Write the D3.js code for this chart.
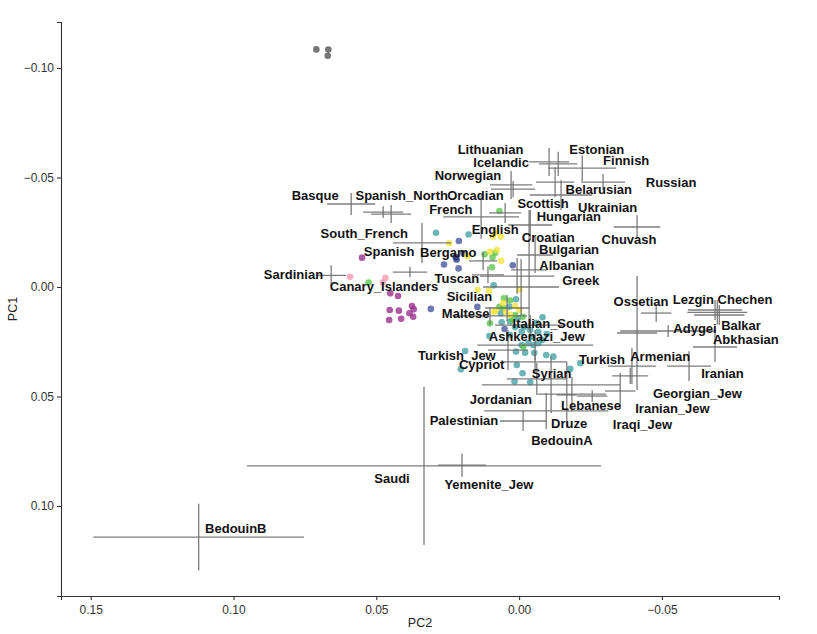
<!DOCTYPE html>
<html>
<head>
<meta charset="utf-8">
<script src="https://cdn.jsdelivr.net/npm/d3@7"></script>
<style>
  body { margin: 0; background: #fff; }
  svg text { font-family: "Liberation Sans", Arial, Helvetica, sans-serif; }
</style>
</head>
<body>
<div id="chart"></div>
<script>
// PCA plot: PC2 (reversed) vs PC1 (reversed)

// Population means with spread: [name, PC2, PC1, sdPC2, sdPC1]
const crosses = [
  ["Lithuanian", -0.0105, -0.0571, 0.0070, 0.0064],
  ["Icelandic", -0.0137, -0.0562, 0.0067, 0.0055],
  ["Estonian", -0.0221, -0.0543, 0.0119, 0.0059],
  ["Finnish", -0.0294, -0.0479, 0.0077, 0.0037],
  ["Belarusian", -0.0126, -0.0479, 0.0067, 0.0068],
  ["Ukrainian", -0.0147, -0.0420, 0.0109, 0.0068],
  ["Norwegian", 0.0028, -0.0466, 0.0074, 0.0064],
  ["Orcadian", 0.0021, -0.0447, 0.0077, 0.0037],
  ["Scottish", 0.0049, -0.0338, 0.0056, 0.0046],
  ["English", 0.0133, -0.0320, 0.0133, 0.0100],
  ["Hungarian", -0.0039, -0.0283, 0.0077, 0.0068],
  ["Chuvash", -0.0413, -0.0274, 0.0081, 0.0055],
  ["French", 0.0340, -0.0201, 0.0102, 0.0091],
  ["Basque", 0.0588, -0.0379, 0.0084, 0.0050],
  ["Spanish_North", 0.0476, -0.0342, 0.0070, 0.0027],
  ["South_French", 0.0448, -0.0333, 0.0070, 0.0041],
  ["Sardinian", 0.0658, -0.0053, 0.0053, 0.0046],
  ["Spanish", 0.0382, -0.0068, 0.0060, 0.0023],
  ["Croatian", -0.0035, -0.0078, 0.0063, 0.0274],
  ["Bulgarian", -0.0056, -0.0146, 0.0063, 0.0082],
  ["Bergamo", 0.0126, -0.0119, 0.0049, 0.0041],
  ["Tuscan", 0.0109, -0.0055, 0.0056, 0.0037],
  ["Albanian", 0.0007, -0.0050, 0.0130, 0.0082],
  ["Greek", -0.0007, 0.0000, 0.0133, 0.0128],
  ["Sicilian", 0.0042, 0.0096, 0.0077, 0.0059],
  ["Maltese", 0.0102, 0.0132, 0.0130, 0.0041],
  ["Italian_South", -0.0039, 0.0174, 0.0123, 0.0046],
  ["Ashkenazi_Jew", -0.0056, 0.0265, 0.0203, 0.0068],
  ["Turkish_Jew", 0.0039, 0.0288, 0.0070, 0.0091],
  ["Cypriot", -0.0056, 0.0342, 0.0112, 0.0046],
  ["Syrian", -0.0112, 0.0447, 0.0242, 0.0128],
  ["Turkish", -0.0395, 0.0361, 0.0084, 0.0082],
  ["Iraqi_Jew", -0.0354, 0.0475, 0.0053, 0.0082],
  ["Armenian", -0.0389, 0.0406, 0.0063, 0.0037],
  ["Iranian", -0.0595, 0.0361, 0.0077, 0.0068],
  ["Georgian_Jew", -0.0413, 0.0210, 0.0070, 0.0260],
  ["Iranian_Jew", -0.0185, 0.0489, 0.0119, 0.0078],
  ["Lebanese", -0.0256, 0.0498, 0.0053, 0.0027],
  ["Jordanian", -0.0095, 0.0566, 0.0217, 0.0082],
  ["Palestinian", -0.0014, 0.0612, 0.0081, 0.0046],
  ["Druze", -0.0167, 0.0493, 0.0035, 0.0151],
  ["BedouinA", -0.0062, 0.0420, 0.0105, 0.0073],
  ["Saudi", 0.0333, 0.0817, 0.0620, 0.0361],
  ["Yemenite_Jew", 0.0200, 0.0813, 0.0084, 0.0053],
  ["BedouinB", 0.1122, 0.1142, 0.0369, 0.0152],
  ["Ossetian", -0.0480, 0.0119, 0.0053, 0.0041],
  ["Lezgin", -0.0686, 0.0105, 0.0095, 0.0046],
  ["Chechen", -0.0694, 0.0116, 0.0105, 0.0055],
  ["Balkar", -0.0701, 0.0128, 0.0088, 0.0046],
  ["Abkhasian", -0.0686, 0.0274, 0.0077, 0.0068],
  ["Adygei", -0.0522, 0.0201, 0.0168, 0.0027]
];

// Label anchor points (repelled), [name, PC2, PC1]
const labels = [
  ["Lithuanian", 0.0100, -0.0630], ["Icelandic", 0.0063, -0.0569],
  ["Norwegian", 0.0179, -0.0508], ["Estonian", -0.0272, -0.0626],
  ["Finnish", -0.0375, -0.0577], ["Russian", -0.0532, -0.0475],
  ["Belarusian", -0.0279, -0.0443], ["Basque", 0.0714, -0.0420],
  ["Spanish_North", 0.0411, -0.0420], ["Orcadian", 0.0153, -0.0420],
  ["Scottish", -0.0084, -0.0379], ["Ukrainian", -0.0310, -0.0362],
  ["French", 0.0239, -0.0356], ["Hungarian", -0.0174, -0.0324],
  ["South_French", 0.0542, -0.0245], ["English", 0.0084, -0.0263],
  ["Croatian", -0.0102, -0.0227], ["Chuvash", -0.0385, -0.0218],
  ["Bulgarian", -0.0175, -0.0169], ["Spanish", 0.0455, -0.0161],
  ["Bergamo", 0.0248, -0.0157], ["Albanian", -0.0167, -0.0100],
  ["Sardinian", 0.0790, -0.0058], ["Tuscan", 0.0218, -0.0037],
  ["Greek", -0.0216, -0.0029], ["Canary_Islanders", 0.0473, -0.0001],
  ["Sicilian", 0.0174, 0.0044], ["Ossetian", -0.0427, 0.0067],
  ["Lezgin", -0.0610, 0.0055], ["Chechen", -0.0791, 0.0055],
  ["Maltese", 0.0187, 0.0123], ["Italian_South", -0.0120, 0.0166],
  ["Balkar", -0.0777, 0.0174], ["Adygei", -0.0616, 0.0189],
  ["Ashkenazi_Jew", -0.0062, 0.0224], ["Abkhasian", -0.0794, 0.0239],
  ["Turkish_Jew", 0.0218, 0.0312], ["Armenian", -0.0494, 0.0318],
  ["Turkish", -0.0290, 0.0329], ["Cypriot", 0.0131, 0.0353],
  ["Iranian", -0.0712, 0.0394], ["Syrian", -0.0114, 0.0397],
  ["Georgian_Jew", -0.0624, 0.0485], ["Jordanian", 0.0064, 0.0513],
  ["Lebanese", -0.0252, 0.0542], ["Iranian_Jew", -0.0537, 0.0557],
  ["Palestinian", 0.0193, 0.0609], ["Druze", -0.0175, 0.0622],
  ["Iraqi_Jew", -0.0432, 0.0630], ["BedouinA", -0.0150, 0.0703],
  ["Saudi", 0.0445, 0.0874], ["Yemenite_Jew", 0.0106, 0.0901],
  ["BedouinB", 0.0992, 0.1102]
];

// Individual samples, [PC2, PC1]
const greyDots = [[0.0710, -0.1085], [0.0668, -0.1084], [0.0670, -0.1056]];

const magentaDots = [
  [0.0550, -0.0134], [0.0451, 0.0029], [0.0424, 0.0041], [0.0453, 0.0105],
  [0.0421, 0.0108], [0.0375, 0.0087], [0.0369, 0.0102], [0.0384, 0.0120],
  [0.0413, 0.0145], [0.0371, 0.0136], [0.0455, 0.0151]
];

const pinkDots = [[0.0592, -0.0047], [0.0468, -0.0042], [0.0477, -0.0021]];

const navyDots = [[0.0222, -0.0137], [0.0219, -0.0126]];

const blueDots = [
  [0.0309, 0.0100], [0.0211, -0.0210], [0.0195, -0.0154], [0.0263, -0.0103],
  [0.0212, -0.0085], [0.0022, -0.0099], [0.0146, 0.0091], [0.0051, 0.0192]
];

const tealDots = [
  [0.0291, -0.0248], [0.0177, -0.0240], [0.0089, -0.0008], [0.0011, 0.0056],
  [0.0034, 0.0090], [0.0064, 0.0120], [0.0061, 0.0161], [0.0032, 0.0158],
  [0.0004, 0.0142], [-0.0082, 0.0138], [-0.0060, 0.0164], [-0.0009, 0.0204],
  [0.0104, 0.0224], [-0.0033, 0.0257], [-0.0050, 0.0265], [-0.0068, 0.0257],
  [-0.0080, 0.0242], [-0.0044, 0.0227], [-0.0097, 0.0215], [-0.0009, 0.0265],
  [0.0011, 0.0295], [-0.0021, 0.0300], [-0.0053, 0.0300], [-0.0095, 0.0311],
  [-0.0120, 0.0318], [0.0189, 0.0292], [0.0204, 0.0376], [0.0008, 0.0356],
  [-0.0012, 0.0394], [0.0016, 0.0432], [-0.0039, 0.0435], [-0.0179, 0.0374],
  [-0.0214, 0.0348], [0.0014, 0.0183], [-0.0018, 0.0183], [-0.0039, 0.0196],
  [-0.0067, 0.0205], [0.0032, 0.0219]
];

const greenDots = [
  [0.0069, -0.0347], [0.0121, -0.0149], [0.0093, -0.0136], [0.0084, -0.0155],
  [0.0095, -0.0090], [0.0053, 0.0052], [0.0069, 0.0090], [0.0032, 0.0062],
  [0.0055, 0.0097], [0.0014, 0.0128], [-0.0013, 0.0136], [0.0102, 0.0166],
  [-0.0015, 0.0273], [0.0025, 0.0151], [0.0527, -0.0020]
];

const yellowDots = [
  [0.0092, -0.0230], [0.0064, -0.0230], [0.0081, -0.0251], [0.0245, -0.0200],
  [0.0078, -0.0169], [0.0102, -0.0161], [0.0181, -0.0142], [0.0063, -0.0120],
  [0.0145, 0.0014], [0.0105, 0.0017], [-0.0001, 0.0011], [0.0088, 0.0114],
  [0.0032, 0.0128], [0.0082, 0.0105], [-0.0001, 0.0105], [0.0046, 0.0114],
  [0.0014, 0.0087], [0.0056, 0.0073]
];

const xTicks = [0.15, 0.10, 0.05, 0.00, -0.05];
const yTicks = [-0.10, -0.05, 0.00, 0.05, 0.10];

const dotGroups = [
  { pts: greyDots, color: "#555555" },
  { pts: magentaDots, color: "#9a2f8c" },
  { pts: pinkDots, color: "#f39ab0" },
  { pts: blueDots, color: "#4a57a0" },
  { pts: navyDots, color: "#27307a" },
  { pts: tealDots, color: "#45a3a5" },
  { pts: greenDots, color: "#5cc84c" },
  { pts: yellowDots, color: "#f3e33a" }
];

// Chart dimensions
const W = 817, H = 634;
const margin = { top: 22, right: 38, bottom: 38, left: 61 },
    width = W - margin.left - margin.right,
    height = H - margin.top - margin.bottom;

const svg = d3.select("#chart")
    .append("svg")
    .attr("width", W)
    .attr("height", H)
    .append("g")
    .attr("transform", `translate(${margin.left},${margin.top})`);

// Both axes reversed, as in the original plot
const x = d3.scaleLinear().domain([0.1604, -0.0910]).range([0, width]);
const y = d3.scaleLinear().domain([-0.1210, 0.1411]).range([0, height]);

const fmt = d => d3.format(".2f")(d).replace("-", "\u2212");

// Axes
const xAxis = svg.append("g")
    .attr("transform", `translate(0,${height})`)
    .call(d3.axisBottom(x).tickValues(xTicks).tickFormat(fmt).tickSizeOuter(0).tickSize(4));
const yAxis = svg.append("g")
    .call(d3.axisLeft(y).tickValues(yTicks).tickFormat(fmt).tickSizeOuter(0).tickSize(4));

[xAxis, yAxis].forEach(a => {
    a.select(".domain").attr("stroke", "#333").attr("stroke-width", 1.1);
    a.selectAll(".tick line").attr("stroke", "#333").attr("stroke-width", 1.1);
    a.selectAll(".tick text").attr("fill", "#333").style("font-size", "12px");
});
xAxis.selectAll(".tick text").attr("dy", "0.95em");

// Axis titles
svg.append("text")
    .attr("x", width / 2).attr("y", height + 31)
    .attr("text-anchor", "middle")
    .style("font-size", "12.5px").attr("fill", "#222")
    .text("PC2");
svg.append("text")
    .attr("transform", `translate(${-44},${height / 2}) rotate(-90)`)
    .attr("text-anchor", "middle")
    .style("font-size", "12.5px").attr("fill", "#222")
    .text("PC1");

// Individual points
dotGroups.forEach(g => {
    svg.append("g").selectAll("circle")
        .data(g.pts)
        .enter()
        .append("circle")
        .attr("cx", d => x(d[0]))
        .attr("cy", d => y(d[1]))
        .attr("r", 3.3)
        .attr("fill", g.color)
        .attr("opacity", 0.8);
});

// Crosshairs: mean +/- sd in both directions
const cross = svg.append("g")
    .attr("stroke", "#6e6e6e")
    .attr("stroke-width", 1.3)
    .attr("stroke-opacity", 0.9);

cross.selectAll("line.h")
    .data(crosses)
    .enter()
    .append("line")
    .attr("class", "h")
    .attr("x1", d => x(d[1] - d[3]))
    .attr("x2", d => x(d[1] + d[3]))
    .attr("y1", d => y(d[2]))
    .attr("y2", d => y(d[2]));

cross.selectAll("line.v")
    .data(crosses)
    .enter()
    .append("line")
    .attr("class", "v")
    .attr("x1", d => x(d[1]))
    .attr("x2", d => x(d[1]))
    .attr("y1", d => y(d[2] - d[4]))
    .attr("y2", d => y(d[2] + d[4]));

// Population labels
svg.append("g").selectAll("text")
    .data(labels)
    .enter()
    .append("text")
    .attr("x", d => x(d[1]))
    .attr("y", d => y(d[2]))
    .attr("text-anchor", "middle")
    .attr("dominant-baseline", "central")
    .style("font-size", "13px")
    .style("font-weight", "bold")
    .attr("fill", "#111")
    .text(d => d[0]);
</script>
</body>
</html>
